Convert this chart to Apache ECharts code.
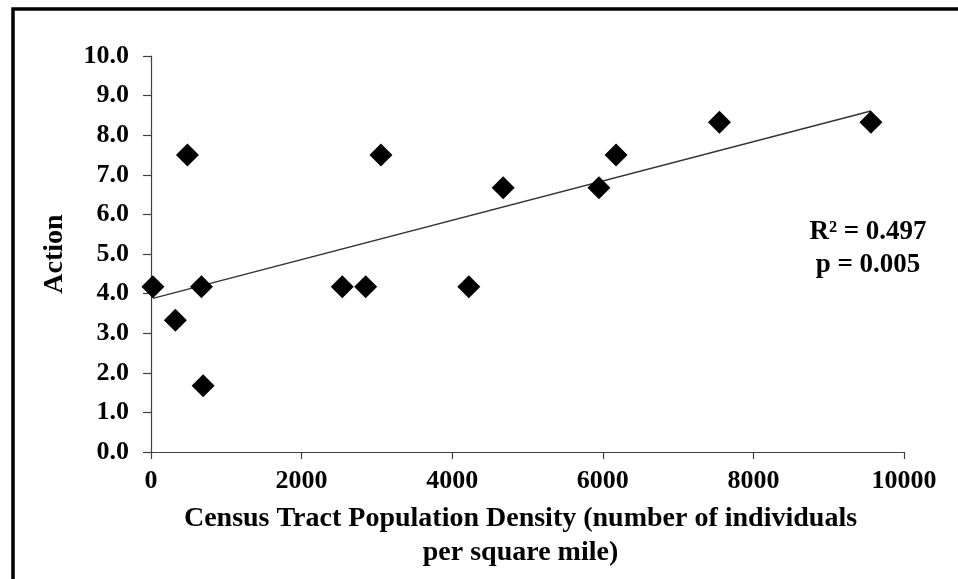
<!DOCTYPE html>
<html>
<head>
<meta charset="utf-8">
<script src="https://cdn.jsdelivr.net/npm/echarts@6/dist/echarts.min.js"></script>
<style>
html,body{margin:0;padding:0;background:#fff;}
#chart{width:958px;height:579px;}
</style>
</head>
<body>
<div id="chart"></div>
<script>
// Data
var densityX = [25, 324, 484, 670, 692, 2540, 2851, 3054, 4221, 4677, 5949, 6176, 7549, 9561];
var actionY  = [4.17, 3.33, 7.5, 4.17, 1.67, 4.17, 4.17, 7.5, 4.17, 6.67, 6.67, 7.5, 8.33, 8.33];
var trendX = [25, 9561];
var trendY = [3.88, 8.61];
var xTicks = [0, 2000, 4000, 6000, 8000, 10000];
var yTicks = [0, 1, 2, 3, 4, 5, 6, 7, 8, 9, 10];
var statLines = ['R² = 0.497', 'p = 0.005'];
var xTitle = 'Census Tract Population Density (number of individuals\nper square mile)';
var yTitle = 'Action';

var FONT = "'Liberation Serif', 'Times New Roman', serif";
var scatterData = densityX.map(function (x, i) { return [x, actionY[i]]; });
var trendData = trendX.map(function (x, i) { return [x, trendY[i]]; });

var chart = echarts.init(document.getElementById('chart'));
chart.setOption({
  animation: false,
  backgroundColor: '#ffffff',
  grid: { left: 151, right: 54, top: 56, bottom: 127, containLabel: false },
  xAxis: {
    type: 'value', min: xTicks[0], max: xTicks[xTicks.length - 1], interval: 2000,
    axisLine: { show: true, lineStyle: { color: '#404040', width: 1.2 } },
    axisTick: { show: true, inside: false, length: 7, lineStyle: { color: '#404040', width: 1.2 } },
    splitLine: { show: false },
    axisLabel: { margin: 16, color: '#000', fontFamily: FONT, fontWeight: 'bold', fontSize: 26,
      formatter: function (v) { return String(v); } },
    name: xTitle, nameLocation: 'middle', nameGap: 50,
    nameTextStyle: { color: '#000', fontFamily: FONT, fontWeight: 'bold', fontSize: 28, lineHeight: 34, padding: [0, 14, 0, 0] }
  },
  yAxis: {
    type: 'value', min: yTicks[0], max: yTicks[yTicks.length - 1], interval: 1,
    axisLine: { show: true, lineStyle: { color: '#404040', width: 1.2 } },
    axisTick: { show: true, inside: false, length: 8, lineStyle: { color: '#404040', width: 1.2 } },
    splitLine: { show: false },
    axisLabel: { margin: 22, color: '#000', fontFamily: FONT, fontWeight: 'bold', fontSize: 26,
      formatter: function (v) { return v.toFixed(1); } },
    name: yTitle, nameLocation: 'middle', nameGap: 82, nameRotate: 90,
    nameTextStyle: { color: '#000', fontFamily: FONT, fontWeight: 'bold', fontSize: 28 }
  },
  series: [
    {
      type: 'line', data: trendData, showSymbol: false, symbol: 'none',
      lineStyle: { color: '#333', width: 1.5 }, z: 2, silent: true
    },
    {
      type: 'scatter', data: scatterData, symbol: 'diamond', symbolSize: 23,
      itemStyle: { color: '#000', opacity: 1 }, z: 3
    }
  ],
  graphic: [
    { type: 'rect', shape: { x: 13, y: 9, width: 1200, height: 1000 },
      style: { fill: 'none', stroke: '#000', lineWidth: 3.5 }, z: 100 },
    { type: 'text', x: 868, y: 232,
      style: { text: statLines[0], font: "bold 27px 'Liberation Serif', serif", fill: '#000', textAlign: 'center', textVerticalAlign: 'middle' } },
    { type: 'text', x: 868, y: 265,
      style: { text: statLines[1], font: "bold 27px 'Liberation Serif', serif", fill: '#000', textAlign: 'center', textVerticalAlign: 'middle' } }
  ]
});
</script>
</body>
</html>
